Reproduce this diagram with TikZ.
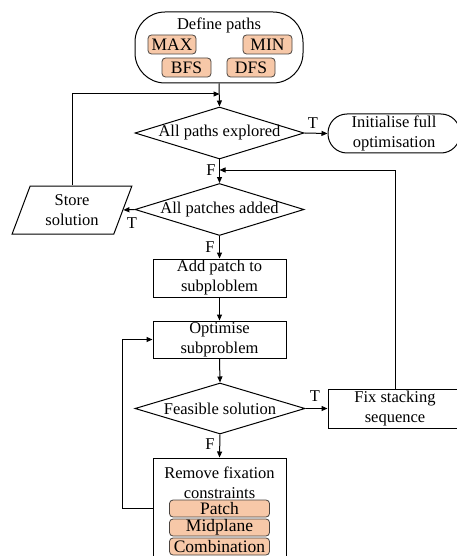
\documentclass[tikz,border=0pt]{standalone}
\usepackage{fontspec}
\setmainfont{Liberation Serif}
\usetikzlibrary{shapes.geometric,arrows.meta,calc}
\definecolor{peach}{HTML}{F7C8A8}
\definecolor{subdraw}{HTML}{4A4440}
\begin{document}
\begin{tikzpicture}[x=1pt,y=-1pt,
  every node/.style={font=\fontsize{16.5}{20}\selectfont, inner sep=0pt, align=center},
  box/.style={draw, line width=1pt, minimum width=133pt},
  dia/.style={draw, diamond, line width=1pt, minimum width=169pt, minimum height=52pt},
  tag/.style={draw=subdraw, fill=peach, rounded corners=3.5pt, line width=0.8pt, font=\fontsize{17.5}{20}\selectfont},
  arr/.style={line width=1pt, -{Triangle[length=6pt,width=5pt]}}]
\useasboundingbox (0,0) rectangle (457,556);
% start
\node[draw, line width=1pt, rounded corners=30pt, minimum width=168pt, minimum height=71pt] (def) at (219,47.5) {};
\node (deftxt) at (219,25) {Define paths};
\node[tag, minimum width=48pt, minimum height=19pt] (max) at (172,44.5) {MAX};
\node[tag, minimum width=49pt, minimum height=19pt] (min) at (267.5,44.5) {MIN};
\node[tag, minimum width=49pt, minimum height=19pt] (bfs) at (186.5,67.5) {BFS};
\node[tag, minimum width=48pt, minimum height=19pt] (dfs) at (251,67.5) {DFS};
% decisions
\node[dia, label=center:{All paths explored}] (d1) at (219.5,133) {};
\node[dia, label=center:{All patches added}] (d2) at (219.5,209.5) {};
\node[dia, minimum width=170pt, minimum height=51pt, label=center:{Feasible solution}] (d3) at (220,408.5) {};
% others
\node[draw, line width=1pt, rounded corners=19pt, minimum width=132pt, minimum height=39pt] (init) at (394,133.5) {Initialise full\\optimisation};
\node[draw, trapezium, trapezium left angle=67, trapezium right angle=113, trapezium stretches=true, line width=1pt, minimum width=120pt, minimum height=48pt, inner xsep=4pt] (store) at (72,210) {Store\\solution};
\node[box, minimum height=38pt] (add) at (219.5,278) {Add patch to\\subploblem};
\node[box, minimum height=37pt] (opt) at (219.5,339.5) {Optimise\\subproblem};
\node[box, minimum width=134pt, minimum height=39pt] (fix) at (395,408.5) {Fix stacking\\sequence};
\node[box, minimum height=100pt] (rem) at (219.5,508) {};
\node (remtxt) at (219.5,483) {Remove fixation\\constraints};
\node[tag, minimum width=100pt, minimum height=17pt] (patch) at (219.5,508.5) {Patch};
\node[tag, minimum width=100pt, minimum height=17pt] (mid) at (219.5,527.5) {Midplane};
\node[tag, minimum width=100pt, minimum height=17pt] (comb) at (219.5,546.5) {Combination};
% junctions
\coordinate (j1) at (219.5,94);
\coordinate (j2) at (219.5,170);
% connectors
\draw[arr] (def.south) -- (d1.north);
\draw[arr] (store.center |- store.north) |- (j1);
\draw[arr] (d1.east) -- (init.west);
\node (t1) at (313,123) {T};
\draw[arr] (d1.south) -- (d2.north);
\node (f1) at (211,170) {F};
\draw[arr] (fix.north) |- (j2);
\draw[arr] (d2.west) -- (store.east);
\node (t2) at (132,223) {T};
\draw[arr] (d2.south) -- (add.north);
\node (f2) at (210,247) {F};
\draw[arr] (add.south) -- (opt.north);
\draw[arr] (opt.south) -- (d3.north);
\draw[arr] (d3.east) -- (fix.west);
\node (t3) at (315,396) {T};
\draw[arr] (d3.south) -- (rem.north);
\node (f3) at (210,444) {F};
\draw[arr] (rem.west) -- ++(-30,0) |- (opt.west);
\end{tikzpicture}
\end{document}
